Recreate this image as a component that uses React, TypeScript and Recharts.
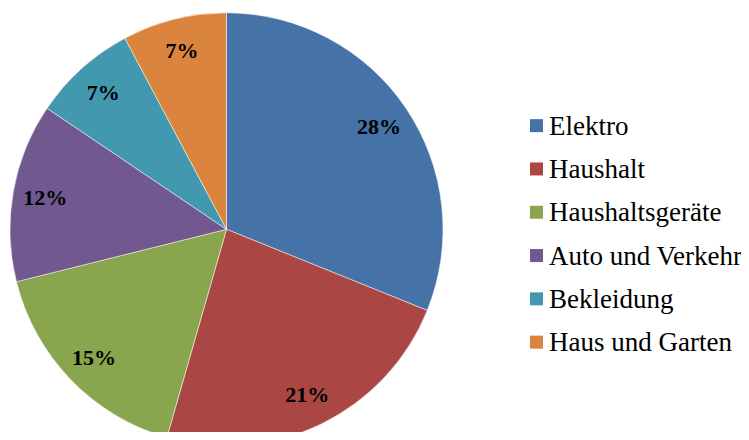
import { PieChart, Pie, Cell, Legend } from "recharts"

const CATEGORIES = ["Elektro", "Haushalt", "Haushaltsgeräte", "Auto und Verkehr", "Bekleidung", "Haus und Garten"]
const VALUES = [28, 21, 15, 12, 7, 7]
const COLORS = ["#4572A7", "#AA4643", "#89A54E", "#71588F", "#4198AF", "#DB843D"]

const data = CATEGORIES.map((name, i) => ({ name, value: VALUES[i] }))
const RAD = Math.PI / 180
const SERIF = "'Liberation Serif', 'Times New Roman', serif"

const renderLabel = (p: any) => {
  const r = p.outerRadius * 0.85
  const x = p.cx + r * Math.cos(-p.midAngle * RAD)
  const y = p.cy + r * Math.sin(-p.midAngle * RAD)
  return (
    <text x={x} y={y} textAnchor="middle" dominantBaseline="central" fill="#000"
      fontFamily={SERIF} fontWeight="bold" fontSize={22}>
      {`${p.value}%`}
    </text>
  )
}

const ROW = 43.3

const renderLegend = () => (
  <svg width={219} height={ROW * data.length}>
    {data.map((d, i) => (
      <g key={d.name} transform={`translate(0, ${i * ROW})`}>
        <rect x={0} y={ROW / 2 - 6.5} width={13} height={13} fill={COLORS[i]} />
        <text x={19} y={ROW / 2} dominantBaseline="central" fontFamily={SERIF} fontSize={27} fill="#000">
          {d.name}
        </text>
      </g>
    ))}
  </svg>
)

export default function App() {
  return (
    <div style={{ margin: -8, width: 749, height: 440, background: "#fff", overflow: "hidden" }}>
      <PieChart width={749} height={440} margin={{ top: 0, right: 0, bottom: 0, left: 0 }}>
        <Pie data={data} dataKey="value" nameKey="name" cx={226.5} cy={229.3} outerRadius={216.5}
          startAngle={90} endAngle={-270} stroke="#ffffff" strokeWidth={0.5}
          label={renderLabel} labelLine={false} isAnimationActive={false}>
          {data.map((_, i) => <Cell key={i} fill={COLORS[i]} />)}
        </Pie>
        <Legend content={renderLegend} wrapperStyle={{ left: 530, top: 104, width: 219 }} />
      </PieChart>
    </div>
  )
}
